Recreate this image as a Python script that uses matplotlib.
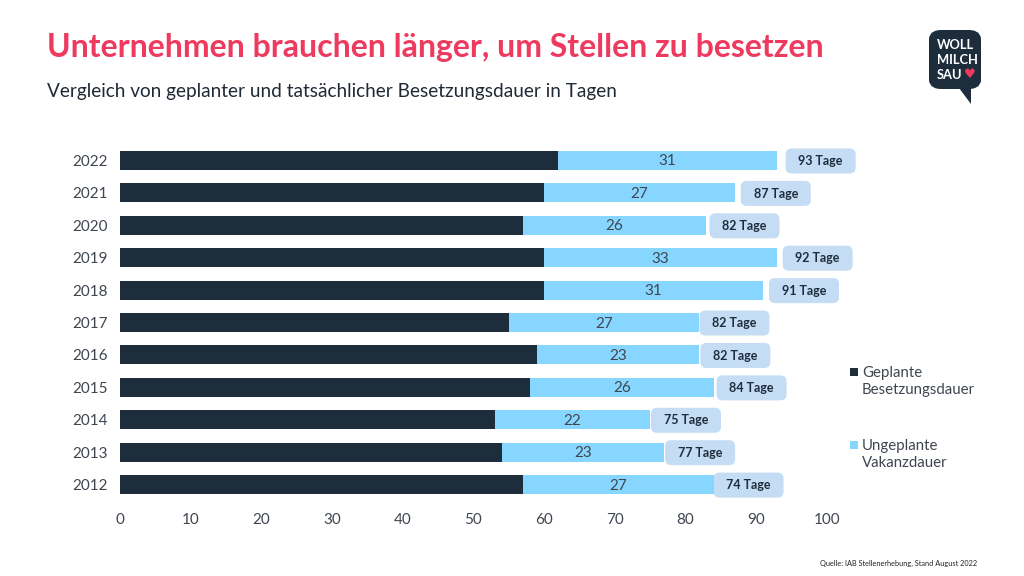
import matplotlib
matplotlib.use("Agg")
import matplotlib.pyplot as plt
from matplotlib.patches import FancyBboxPatch, Polygon, Rectangle
from matplotlib.transforms import Affine2D

years = ["2012", "2013", "2014", "2015", "2016", "2017", "2018", "2019", "2020", "2021", "2022"]
geplant = [57, 54, 53, 58, 59, 55, 60, 60, 57, 60, 62]
ungeplant = [27, 23, 22, 26, 23, 27, 31, 33, 26, 27, 31]
totals = [74, 77, 75, 84, 82, 82, 91, 92, 82, 87, 93]
label_gap_px = [35, 36, 36, 38, 36, 35, 41, 40.5, 38, 41, 43.5]
xticks = list(range(0, 101, 10))

DARK = "#1d2d3c"
LIGHT = "#87d6ff"
BOX = "#c5dcf5"
RED = "#ee3a5e"
TEXT = "#3f4650"

W, H = 1024, 576
plt.rcParams["font.family"] = ["Lato", "DejaVu Sans"]
fig = plt.figure(figsize=(W / 100, H / 100), dpi=100, facecolor="white")


def fx(x):
    return x / W


def fy(y):
    return 1 - y / H


ax = fig.add_axes([fx(120.1), fy(500.8), fx(826.6 - 120.1), (500.8 - 144.3) / H])
ax.barh(years, geplant, height=0.585, color=DARK)
ax.barh(years, ungeplant, left=geplant, height=0.585, color=LIGHT)
ax.set_xlim(0, 100)
ax.set_ylim(-0.5, 10.5)
ax.set_xticks(xticks)
for s in ax.spines.values():
    s.set_visible(False)
ax.tick_params(axis="both", length=0, labelsize=11, labelcolor=TEXT)
ax.tick_params(axis="x", pad=9)
ax.tick_params(axis="y", pad=9)

for i, (g, u, t, gap) in enumerate(zip(geplant, ungeplant, totals, label_gap_px)):
    ax.annotate(str(u), xy=(g + u / 2, i), xytext=(0, -0.7), textcoords="offset points",
                ha="center", va="center", fontsize=11, color=TEXT)
    px, py = ax.transData.transform((g + u, i))
    box = FancyBboxPatch((gap - 32, -10), 64, 19, boxstyle="round,pad=3,rounding_size=6",
                         transform=Affine2D().translate(px, py), fc=BOX, ec="none",
                         clip_on=False, zorder=3)
    fig.add_artist(box)
    ax.annotate(f"{t} Tage", xy=(g + u, i), xytext=(gap * 0.72, -0.5), textcoords="offset points",
                ha="center", va="center", fontsize=9, fontweight="bold", color=DARK, zorder=5)

for t in ax.texts:
    t.set_zorder(5)
ax.set_zorder(4)
ax.patch.set_visible(False)

fig.text(fx(47), fy(48), "Unternehmen brauchen länger, um Stellen zu besetzen", fontsize=23,
         fontweight="bold", color=RED, va="center", ha="left")
fig.text(fx(47), fy(91), "Vergleich von geplanter und tatsächlicher Besetzungsdauer in Tagen", fontsize=13.72,
         color="#1f2a36", va="center", ha="left")
fig.text(fx(977), fy(563), "Quelle: IAB Stellenerhebung, Stand August 2022", fontsize=5.3,
         color="#222222", va="center", ha="right")

# Legend
for col, y0, lab in [(DARK, 372, "Geplante\nBesetzungsdauer"), (LIGHT, 445, "Ungeplante\nVakanzdauer")]:
    fig.add_artist(Rectangle((fx(850), fy(y0 + 4)), 8 / W, 8 / H, transform=fig.transFigure, fc=col, ec="none"))
    fig.text(fx(862), fy(y0 - 6), lab, fontsize=10.8, color=TEXT, va="top", ha="left", linespacing=1.25)

# Logo
fig.add_artist(FancyBboxPatch((fx(935), fy(83)), 40 / W, 47 / H, transform=fig.transFigure,
                              boxstyle="round,pad=0,rounding_size=0.006", fc=DARK, ec=DARK, lw=12 * 0.72,
                              mutation_aspect=1.0))
fig.add_artist(Polygon([(fx(959), fy(88)), (fx(971), fy(104)), (fx(971), fy(88))],
                       transform=fig.transFigure, fc=DARK, ec="none"))
for y, t in [(45, "WOLL"), (60, "MILCH"), (75, "SAU")]:
    fig.text(fx(937), fy(y), t, fontsize=9.3, fontweight="bold", color="white",
             family="Lato", va="center", ha="left")
fig.text(fx(969.5), fy(75), "♥", fontsize=9.5, color=RED, family="DejaVu Sans", va="center", ha="center")

fig.savefig("out.png", dpi=100)
